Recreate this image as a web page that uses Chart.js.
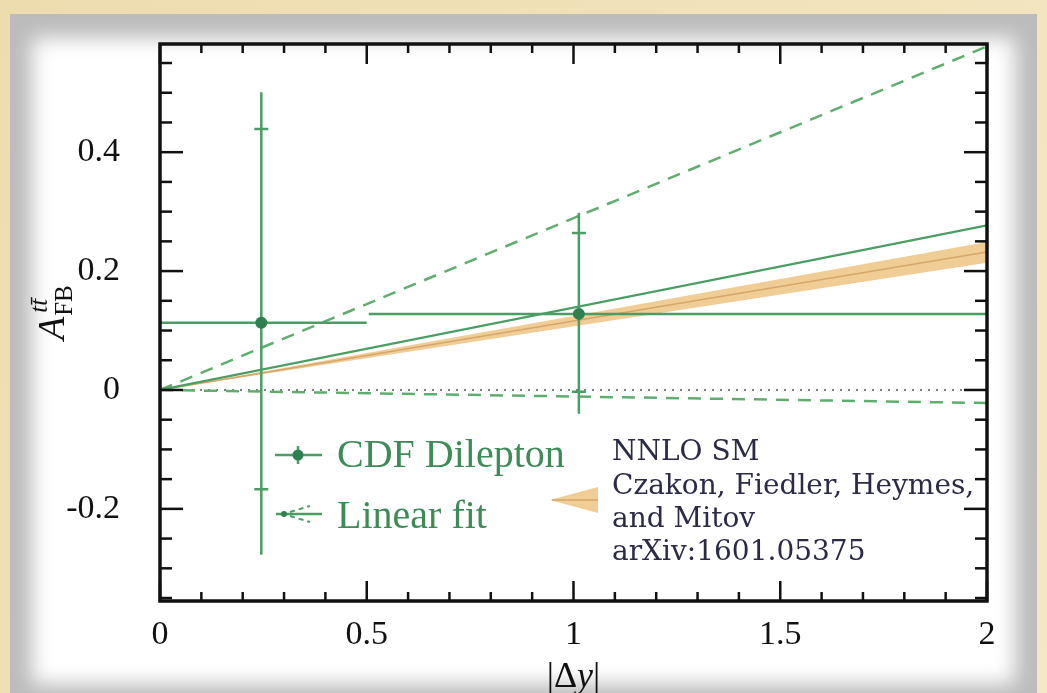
<!DOCTYPE html>
<html><head><meta charset="utf-8">
<script src="https://cdn.jsdelivr.net/npm/chart.js@4.4.1/dist/chart.umd.min.js"></script>
<style>html,body{margin:0;padding:0;background:#f3e4bf;overflow:hidden}#wrap{width:1047px;height:693px;position:relative}</style>
</head><body><div id="wrap"><canvas id="c" width="1047" height="693"></canvas></div>
<script>
// ---- data ----
const binLow   = [0, 0.5];
const binHigh  = [0.5, 2];
const cdfX     = [0.245, 1.013];
const cdfY     = [0.113, 0.128];
const totUp    = [0.388, 0.170];
const totDown  = [0.390, 0.168];
const statUp   = [0.326, 0.136];
const statDown = [0.280, 0.131];
const lineX       = [0, 2];
const fitCentral  = [0, 0.277];
const fitUpper    = [0, 0.578];
const fitLower    = [0, -0.022];
const nnloCentral = [0, 0.232];
const nnloHigh    = [0, 0.249];
const nnloLow     = [0, 0.214];
const zeroLine    = [0, 0];
const legendLabels = ['CDF Dilepton', 'Linear fit'];
const noteLines = ['NNLO SM', 'Czakon, Fiedler, Heymes,', 'and Mitov', 'arXiv:1601.05375'];
const xMajorStep = 0.5, xMinorStep = 0.1, yMajorStep = 0.2, yMinorStep = 0.05;

const pts = (xs, ys) => xs.map((v, i) => ({x: v, y: ys[i]}));
const GREEN = '#4a9d63', DGREEN = '#2f8050', TAN = '#f1cd96';

const paper = {
  id: 'paper',
  beforeDraw(chart) {
    const ctx = chart.ctx, W = chart.width, H = chart.height;
    ctx.save();
    const g = ctx.createLinearGradient(0, 0, W, H);
    g.addColorStop(0, '#eddcae'); g.addColorStop(1, '#f5e8c6');
    ctx.fillStyle = g; ctx.fillRect(0, 0, W, H);
    ctx.beginPath(); ctx.rect(10, 14, 1027, 700);
    ctx.fillStyle = '#bcbcbc'; ctx.fill(); ctx.clip();
    ctx.filter = 'blur(10px)';
    ctx.fillStyle = '#ffffff';
    ctx.fillRect(32, 38, 983, 646);
    ctx.restore();
  },
  afterDatasetsDraw(chart) {
    const ctx = chart.ctx, x = chart.scales.x, y = chart.scales.y;
    ctx.save();
    ctx.strokeStyle = GREEN; ctx.lineWidth = 2.5;
    cdfX.forEach((v, i) => {
      const px = x.getPixelForValue(v), py = y.getPixelForValue(cdfY[i]);
      const seg = (a, b, c, d) => { ctx.beginPath(); ctx.moveTo(a, b); ctx.lineTo(c, d); ctx.stroke(); };
      seg(x.getPixelForValue(binLow[i]) + (i ? 2 : 0), py, x.getPixelForValue(binHigh[i]), py);
      seg(px, y.getPixelForValue(cdfY[i] + totUp[i]), px, y.getPixelForValue(cdfY[i] - totDown[i]));
      const t1 = y.getPixelForValue(cdfY[i] + statUp[i]), t2 = y.getPixelForValue(cdfY[i] - statDown[i]);
      seg(px - 7, t1, px + 7, t1); seg(px - 7, t2, px + 7, t2);
      ctx.fillStyle = DGREEN; ctx.beginPath(); ctx.arc(px, py, 6, 0, Math.PI * 2); ctx.fill();
    });
    ctx.restore();
  },
  afterDraw(chart) {
    const ctx = chart.ctx, a = chart.chartArea, x = chart.scales.x, y = chart.scales.y;
    ctx.save();
    ctx.strokeStyle = '#111'; ctx.lineWidth = 2.5;
    const seg = (p, q, r, s) => { ctx.beginPath(); ctx.moveTo(p, q); ctx.lineTo(r, s); ctx.stroke(); };
    x.ticks.forEach(t => {
      const v = t.value, px = x.getPixelForValue(v);
      const major = Math.abs(v / xMajorStep - Math.round(v / xMajorStep)) < 1e-6;
      const L = major ? 20 : 9;
      seg(px, a.bottom, px, a.bottom - L); seg(px, a.top, px, a.top + L);
    });
    y.ticks.forEach(t => {
      const v = t.value, py = y.getPixelForValue(v);
      const major = Math.abs(v / yMajorStep - Math.round(v / yMajorStep)) < 1e-6;
      const L = major ? 23 : 12;
      seg(a.left, py, a.left + L, py); seg(a.right, py, a.right - L, py);
    });
    ctx.lineWidth = 3.5; ctx.strokeRect(a.left, a.top, a.width, a.height);

    // legend
    ctx.strokeStyle = GREEN; ctx.lineWidth = 2.5;
    seg(275, 455, 322, 455); seg(298, 446, 298, 464);
    ctx.fillStyle = DGREEN; ctx.beginPath(); ctx.arc(298, 455, 5.5, 0, Math.PI * 2); ctx.fill();
    seg(276, 514, 322, 514);
    ctx.beginPath(); ctx.arc(284, 514, 3, 0, Math.PI * 2); ctx.fill();
    ctx.lineWidth = 2; ctx.setLineDash([5, 4]);
    seg(290, 512, 310, 506); seg(290, 516, 310, 522);
    ctx.setLineDash([]);
    ctx.fillStyle = '#3d8c57'; ctx.font = '40px "Liberation Serif"'; ctx.textBaseline = 'middle';
    ctx.fillText(legendLabels[0], 337, 456);
    ctx.fillText(legendLabels[1], 337, 517);

    // NNLO wedge and note
    ctx.fillStyle = TAN; ctx.beginPath();
    ctx.moveTo(550, 500); ctx.lineTo(598, 487); ctx.lineTo(598, 513); ctx.closePath(); ctx.fill();
    ctx.strokeStyle = '#d6a56a'; ctx.lineWidth = 1.5; seg(552, 500, 598, 500);
    ctx.fillStyle = '#2b2b48'; ctx.font = '28px "DejaVu Serif"';
    [453, 487, 520, 553].forEach((yy, i) => ctx.fillText(noteLines[i], 612, yy));

    // x title |Δy|
    ctx.fillStyle = '#111'; ctx.textBaseline = 'alphabetic';
    const fU = '36px "Liberation Serif"', fI = 'italic 36px "Liberation Serif"';
    const parts = [['|', fU], ['\u0394', fU], ['y', fI], ['|', fU]];
    let w = 0; parts.forEach(p => { ctx.font = p[1]; w += ctx.measureText(p[0]).width; });
    let cx = (a.left + a.right) / 2 - w / 2;
    parts.forEach(p => { ctx.font = p[1]; ctx.fillText(p[0], cx, 687); cx += ctx.measureText(p[0]).width; });

    // y title A_FB^{tt̄}
    ctx.translate(64, 340); ctx.rotate(-Math.PI / 2);
    ctx.font = 'italic 38px "Liberation Serif"'; ctx.fillText('A', 0, 0);
    const aw = ctx.measureText('A').width + 1;
    ctx.font = '25px "Liberation Serif"'; ctx.fillText('FB', aw, 8);
    ctx.font = 'italic 25px "Liberation Serif"'; ctx.fillText('tt\u0304', aw + 3, -17);
    ctx.restore();
  }
};

new Chart(document.getElementById('c'), {
  type: 'scatter',
  data: {
    datasets: [
      {data: pts(cdfX, cdfY), showLine: false, pointRadius: 0, order: 0},
      {data: pts(lineX, fitCentral), showLine: true, borderColor: GREEN, borderWidth: 2.2, pointRadius: 0, order: 1},
      {data: pts(lineX, fitUpper), showLine: true, borderColor: '#5fae6e', borderWidth: 2.5, borderDash: [13, 9], pointRadius: 0, order: 2},
      {data: pts(lineX, fitLower), showLine: true, borderColor: '#5fae6e', borderWidth: 2.5, borderDash: [13, 9], pointRadius: 0, order: 2},
      {data: pts(lineX, zeroLine), showLine: true, borderColor: '#555', borderWidth: 1.5, borderDash: [2, 6], pointRadius: 0, order: 3},
      {data: pts(lineX, nnloCentral), showLine: true, borderColor: '#d6a56a', borderWidth: 1.5, pointRadius: 0, order: 4},
      {data: pts(lineX, nnloHigh), showLine: true, borderWidth: 0, borderColor: 'rgba(0,0,0,0)', pointRadius: 0, order: 5},
      {data: pts(lineX, nnloLow), showLine: true, borderWidth: 0, borderColor: 'rgba(0,0,0,0)', backgroundColor: TAN, fill: '-1', pointRadius: 0, order: 5}
    ]
  },
  options: {
    responsive: false, animation: false, devicePixelRatio: 1,
    layout: {padding: {left: 0, right: 60, top: 44, bottom: 0}},
    plugins: {legend: {display: false}, tooltip: {enabled: false}},
    scales: {
      x: {
        type: 'linear', min: 0, max: 2,
        afterFit(s) { s.height = 92; s.paddingLeft = 0; s.paddingRight = 0; },
        grid: {display: false}, border: {display: false},
        ticks: {stepSize: xMinorStep, autoSkip: false, maxRotation: 0, padding: 6, color: '#111',
          font: {family: 'Liberation Serif', size: 34},
          callback: v => Math.abs(v / xMajorStep - Math.round(v / xMajorStep)) < 1e-6 ? String(Math.round(v * 10) / 10) : ''}
      },
      y: {
        type: 'linear', min: -0.355, max: 0.582,
        afterFit(s) { s.width = 160; s.paddingTop = 0; s.paddingBottom = 0; },
        grid: {display: false}, border: {display: false},
        ticks: {stepSize: yMinorStep, includeBounds: false, autoSkip: false, padding: 32, color: '#111',
          font: {family: 'Liberation Serif', size: 34},
          callback: v => Math.abs(v / yMajorStep - Math.round(v / yMajorStep)) < 1e-6 ? String(Math.round(v * 10) / 10) : ''}
      }
    }
  },
  plugins: [paper]
});
</script>
</body></html>
